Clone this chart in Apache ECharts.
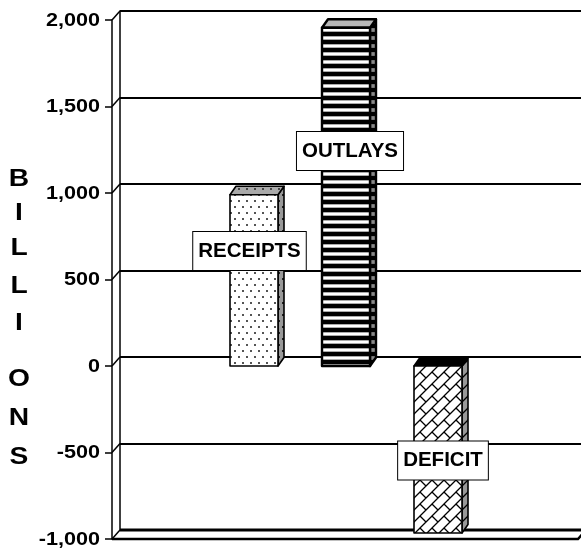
<!DOCTYPE html>
<html><head><meta charset="utf-8">
<script src="https://cdn.jsdelivr.net/npm/echarts@6/dist/echarts.min.js"></script>
<style>html,body{margin:0;padding:0;background:#fff}#c{width:581px;height:550px}</style>
</head><body><div id="c"></div>
<script>
// ---- data ----
const categories = ['RECEIPTS', 'OUTLAYS', 'DEFICIT'];
const values = [990, 1955, -965];
const yTicks = [-1000, -500, 0, 500, 1000, 1500, 2000];
const yTickLabels = ['-1,000', '-500', '0', '500', '1,000', '1,500', '2,000'];
const axisTitleLetters = ['B', 'I', 'L', 'L', 'I', 'O', 'N', 'S'];

// ---- styles ----
const letterY = [180, 214, 249, 287, 324, 380, 419, 458];
const labelShift = [[-4.5, -115], [4, -215], [5, 94.5]];
const barStroke = [1.6, 2.4, 1.6];
const WALL = [8, -9];
const DEPTH = [6, -8.5];
const BAR_W = 48;
const FAM = '"Liberation Sans", Arial, sans-serif';

function pattern(w, h, draw) {
  const c = document.createElement('canvas');
  c.width = w; c.height = h;
  const ctx = c.getContext('2d');
  draw(ctx, w, h);
  return { image: c, repeat: 'repeat' };
}
function dots(bg, fg) {
  return pattern(8, 12, (ctx) => {
    ctx.fillStyle = bg; ctx.fillRect(0, 0, 8, 12);
    ctx.fillStyle = fg;
    ctx.fillRect(2, 2, 2, 2);
    ctx.fillRect(6, 8, 2, 2);
  });
}
function stripes(light, edge) {
  return pattern(4, 8, (ctx) => {
    ctx.fillStyle = '#000'; ctx.fillRect(0, 0, 4, 4);
    ctx.fillStyle = edge; ctx.fillRect(0, 4, 4, 1);
    ctx.fillStyle = light; ctx.fillRect(0, 5, 4, 2);
    ctx.fillStyle = edge; ctx.fillRect(0, 7, 4, 1);
  });
}
function bricks(bg) {
  return pattern(12, 12, (ctx) => {
    ctx.fillStyle = bg; ctx.fillRect(0, 0, 12, 12);
    ctx.strokeStyle = '#000'; ctx.lineWidth = 1.3;
    ctx.beginPath();
    ctx.moveTo(-1, 13); ctx.lineTo(13, -1);
    ctx.moveTo(-1, 1); ctx.lineTo(1, -1);
    ctx.moveTo(11, 13); ctx.lineTo(13, 11);
    ctx.moveTo(0, 0); ctx.lineTo(6, 6);
    ctx.stroke();
  });
}
const faceStyles = [
  { front: dots('#fff', '#555'), side: dots('#999', '#222'), top: dots('#aaa', '#444') },
  { front: stripes('#fff', '#aaa'), side: stripes('#888', '#777'), top: '#b8b8b8' },
  { front: bricks('#fff'), side: bricks('#999'), top: '#000' }
];

const chart = echarts.init(document.getElementById('c'), null, { renderer: 'canvas' });
chart.setOption({
  animation: false,
  grid: [
    { left: 112, top: 20, width: 466, height: 519 },
    { left: 120, top: 11, width: 480, height: 519 },
    { left: 208, top: 20, width: 276, height: 519 }
  ],
  xAxis: [
    { gridIndex: 0, type: 'value', min: 0, max: 1, show: false },
    { gridIndex: 1, type: 'value', min: 0, max: 1, show: false },
    { gridIndex: 2, type: 'category', data: categories, show: false }
  ],
  yAxis: [
    {
      gridIndex: 0, type: 'value', min: -1000, max: 2000, interval: 500,
      axisLine: { show: true, lineStyle: { color: '#000', width: 1.5 } },
      axisTick: { show: true, length: 7, lineStyle: { color: '#000', width: 1.5 } },
      axisLabel: { show: false },
      splitLine: { show: false }
    },
    {
      gridIndex: 1, type: 'value', min: -1000, max: 2000, interval: 500,
      axisLine: { show: true, lineStyle: { color: '#000', width: 1.5 } },
      axisTick: { show: false }, axisLabel: { show: false },
      splitLine: { show: true, lineStyle: { color: '#000', width: 2 } }
    },
    { gridIndex: 2, type: 'value', min: -1000, max: 2000, interval: 500, show: false, splitLine: { show: false } }
  ],
  graphic: axisTitleLetters.map((ch, i) => ({
    type: 'text', x: 19, y: letterY[i], scaleX: 1.2,
    style: { text: ch, fontFamily: FAM, fontWeight: 'bold', fontSize: 23.5, fill: '#000', align: 'center', verticalAlign: 'middle' }
  })),
  series: [
    {
      // side wall, floor, tick labels
      type: 'custom', xAxisIndex: 0, yAxisIndex: 0, clip: false, z: 3,
      data: yTicks.map((t, i) => [0, t, i]),
      renderItem: (params, api) => {
        const t = api.value(1);
        const idx = api.value(2);
        const p = api.coord([0, t]);
        const children = [
          {
            type: 'line', shape: { x1: p[0], y1: p[1], x2: p[0] + WALL[0], y2: p[1] + WALL[1] },
            style: { stroke: '#000', lineWidth: 1.5 }
          },
          {
            type: 'text', x: p[0] - 12, y: p[1] + 1, scaleX: 1.2,
            style: {
              text: yTickLabels[idx], fontFamily: FAM, fontWeight: 'bold', fontSize: 18,
              fill: '#000', align: 'right', verticalAlign: 'middle'
            }
          }
        ];
        if (t === yTicks[0]) {
          const q = api.coord([1, t]);
          children.push({
            type: 'polyline', shape: { points: [[p[0], p[1]], [q[0], q[1]], [q[0] + WALL[0] * 0.5, q[1] + WALL[1] * 0.5]] },
            style: { stroke: '#000', lineWidth: 2.5, fill: null }
          });
          children.push({
            type: 'line', shape: { x1: p[0] + WALL[0], y1: p[1] + WALL[1], x2: 581, y2: p[1] + WALL[1] },
            style: { stroke: '#000', lineWidth: 3 }
          });
        }
        return { type: 'group', children };
      }
    },
    {
      // 3D columns
      type: 'custom', xAxisIndex: 2, yAxisIndex: 2, clip: false, z: 5,
      data: values.map((v, i) => [i, v]),
      renderItem: (params, api) => {
        const i = api.value(0), v = api.value(1);
        const c0 = api.coord([i, 0]), c1 = api.coord([i, v]);
        const x0 = c0[0] - BAR_W / 2, x1 = x0 + BAR_W;
        const yT = Math.min(c0[1], c1[1]), yB = Math.max(c0[1], c1[1]);
        const dx = DEPTH[0], dy = DEPTH[1];
        const fs = faceStyles[i];
        const st = { stroke: '#000', lineWidth: barStroke[i], lineJoin: 'round' };
        return {
          type: 'group', children: [
            { type: 'polygon', shape: { points: [[x1, yT], [x1 + dx, yT + dy], [x1 + dx, yB + dy], [x1, yB]] },
              style: Object.assign({ fill: fs.side }, st) },
            { type: 'polygon', shape: { points: [[x0, yT], [x0 + dx, yT + dy], [x1 + dx, yT + dy], [x1, yT]] },
              style: Object.assign({ fill: fs.top }, st) },
            { type: 'rect', shape: { x: x0, y: yT, width: BAR_W, height: yB - yT },
              style: Object.assign({ fill: fs.front }, st) }
          ]
        };
      }
    },
    {
      // boxed labels
      type: 'custom', xAxisIndex: 2, yAxisIndex: 2, clip: false, z: 8,
      data: values.map((v, i) => [i, v]),
      renderItem: (params, api) => {
        const i = api.value(0);
        const c0 = api.coord([i, 0]);
        return {
          type: 'text', x: c0[0] + labelShift[i][0], y: c0[1] + labelShift[i][1],
          style: {
            text: categories[i], fontFamily: FAM, fontWeight: 'bold', fontSize: 20.5, fill: '#000',
            align: 'center', verticalAlign: 'middle', lineHeight: 22,
            backgroundColor: '#fff', borderColor: '#000', borderWidth: 1,
            padding: [8, 5, 8, 5]
          }
        };
      }
    }
  ]
});
</script></body></html>
